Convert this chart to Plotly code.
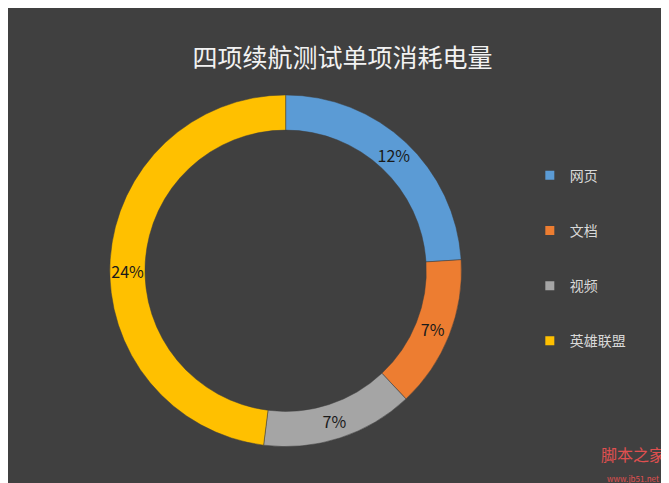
import plotly.graph_objects as go

labels = ['网页', '文档', '视频', '英雄联盟']
values = [12, 7, 7, 24]
colors = ['#5b9bd5', '#ed7d31', '#a5a5a5', '#ffc000']

fig = go.Figure()

fig.add_trace(go.Pie(
    labels=labels,
    values=values,
    text=[f'{v}%' for v in values],
    textinfo='text',
    textposition='inside',
    insidetextorientation='horizontal',
    textfont=dict(size=16, color='#1a1a1a'),
    hole=0.8,
    sort=False,
    direction='clockwise',
    rotation=0,
    marker=dict(colors=colors, line=dict(color='#3f3f3f', width=0.5)),
    domain=dict(x=[0.152, 0.678], y=[0.092, 0.82]),
    showlegend=False,
))

# legend entries as dummy traces so the gap between them can be set
for lab, col in zip(labels, colors):
    fig.add_trace(go.Scatter(
        x=[None], y=[None], mode='markers', name=lab, legendgroup=lab,
        marker=dict(symbol='square', size=9, color=col),
    ))

fig.update_layout(
    width=669, height=483,
    margin=dict(l=0, r=0, t=0, b=0),
    paper_bgcolor='#404040',
    plot_bgcolor='rgba(0,0,0,0)',
    font=dict(family='Noto Sans CJK SC', color='#d9d9d9'),
    uniformtext=dict(minsize=16, mode='show'),
    title=dict(text='四项续航测试单项消耗电量', x=0.5, xanchor='center',
               y=0.895, yanchor='middle', font=dict(size=25, color='#f2f2f2')),
    xaxis=dict(visible=False), yaxis=dict(visible=False),
    legend=dict(x=0.78, y=0.686, xanchor='left', yanchor='top',
                tracegroupgap=34, font=dict(size=14, color='#d9d9d9'),
                bgcolor='rgba(0,0,0,0)'),
    annotations=[dict(text='脚本之家<br><span style="font-size:8px">www.jb51.net</span>',
                      x=0.985, y=0.01, xref='paper', yref='paper',
                      xanchor='right', yanchor='bottom', showarrow=False,
                      font=dict(size=16, color='#e05050'))],
)

fig.write_html("out.html")
